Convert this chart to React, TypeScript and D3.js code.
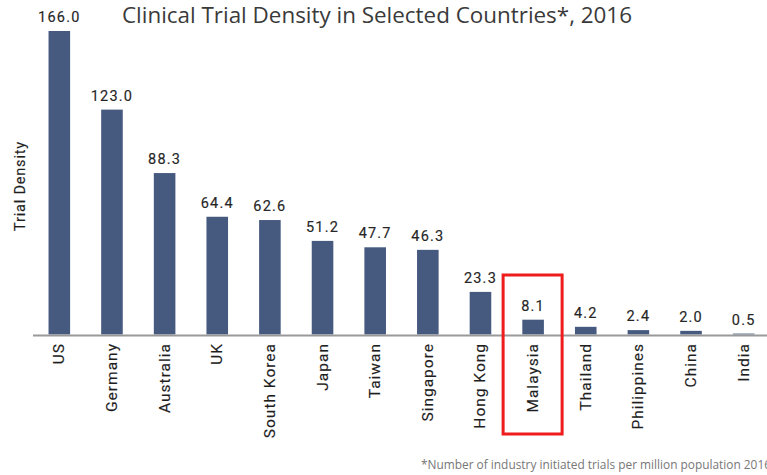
import React, { useEffect, useRef } from 'react';
import * as d3 from 'd3';

const countries = [
  'US', 'Germany', 'Australia', 'UK', 'South Korea', 'Japan', 'Taiwan',
  'Singapore', 'Hong Kong', 'Malaysia', 'Thailand', 'Philippines', 'China', 'India',
];
const density = [166.0, 123.0, 88.3, 64.4, 62.6, 51.2, 47.7, 46.3, 23.3, 8.1, 4.2, 2.4, 2.0, 0.5];
const highlighted = ['Malaysia'];

const App: React.FC = () => {
  const svgRef = useRef<SVGSVGElement | null>(null);

  useEffect(() => {
    const svg = d3.select(svgRef.current);
    svg.selectAll('*').remove();

    const width = 767;
    const height = 475;
    const baseline = 334.5;

    svg.attr('width', width).attr('height', height);

    const x = d3.scaleBand<string>().domain(countries).range([33, 770]).paddingInner(0.59).paddingOuter(0.295);
    const y = d3.scaleLinear().domain([0, 166]).range([baseline, 31]);

    const data = countries.map((c, i) => ({ country: c, value: density[i] }));

    // bars
    svg.append('g')
      .selectAll('rect')
      .data(data)
      .join('rect')
      .attr('x', (d) => x(d.country)!)
      .attr('y', (d) => y(d.value))
      .attr('width', x.bandwidth())
      .attr('height', (d) => baseline - y(d.value))
      .attr('fill', '#465a80');

    // value labels
    svg.append('g')
      .selectAll('text')
      .data(data)
      .join('text')
      .attr('x', (d) => x(d.country)! + x.bandwidth() / 2)
      .attr('y', (d) => y(d.value) - 9)
      .attr('text-anchor', 'middle')
      .attr('font-family', 'Roboto, sans-serif')
      .attr('font-size', 14.5)
      .attr('letter-spacing', 1.2)
      .attr('fill', '#262626')
      .attr('stroke', '#262626')
      .attr('stroke-width', 0.15)
      .text((d) => d.value.toFixed(1));

    // axis line
    svg.append('line')
      .attr('x1', 33)
      .attr('x2', width)
      .attr('y1', baseline + 1)
      .attr('y2', baseline + 1)
      .attr('stroke', '#999')
      .attr('stroke-width', 2);

    // category labels
    svg.append('g')
      .selectAll('text')
      .data(countries)
      .join('text')
      .attr('transform', (d) => `translate(${x(d)! + x.bandwidth() / 2 + 5},343) rotate(-90)`)
      .attr('text-anchor', 'end')
      .attr('font-family', 'Roboto, sans-serif')
      .attr('font-size', 15.5)
      .attr('letter-spacing', 1)
      .attr('fill', '#1e1e1e')
      .attr('stroke', '#1e1e1e')
      .attr('stroke-width', 0.15)
      .text((d) => d);

    // highlight box
    highlighted.forEach((c) => {
      const cx = x(c)! + x.bandwidth() / 2;
      svg.append('rect')
        .attr('x', cx - 30)
        .attr('y', 275)
        .attr('width', 59)
        .attr('height', 159)
        .attr('fill', 'none')
        .attr('stroke', '#ee1c1c')
        .attr('stroke-width', 3);
    });

    // y axis title
    svg.append('text')
      .attr('transform', 'translate(25,186) rotate(-90)')
      .attr('text-anchor', 'middle')
      .attr('font-family', 'Roboto, sans-serif')
      .attr('font-size', 14.5)
      .attr('letter-spacing', 0.8)
      .attr('fill', '#1e1e1e')
      .attr('stroke', '#1e1e1e')
      .attr('stroke-width', 0.15)
      .text('Trial Density');

    // title
    svg.append('text')
      .attr('x', 122)
      .attr('y', 23)
      .attr('font-family', '"Open Sans", sans-serif')
      .attr('font-size', 21)
      .attr('fill', '#3a3a3a')
      .attr('textLength', 510)
      .attr('lengthAdjust', 'spacingAndGlyphs')
      .text('Clinical Trial Density in Selected Countries*, 2016');

    // footnote
    svg.append('text')
      .attr('x', 421)
      .attr('y', 469)
      .attr('font-family', '"Open Sans", sans-serif')
      .attr('font-size', 12.5)
      .attr('fill', '#777')
      .attr('textLength', 350)
      .attr('lengthAdjust', 'spacingAndGlyphs')
      .text('*Number of industry initiated trials per million population 2016');
  }, []);

  return <svg ref={svgRef} style={{ position: 'absolute', left: 0, top: 0, background: '#fff' }}></svg>;
};

export default App;
